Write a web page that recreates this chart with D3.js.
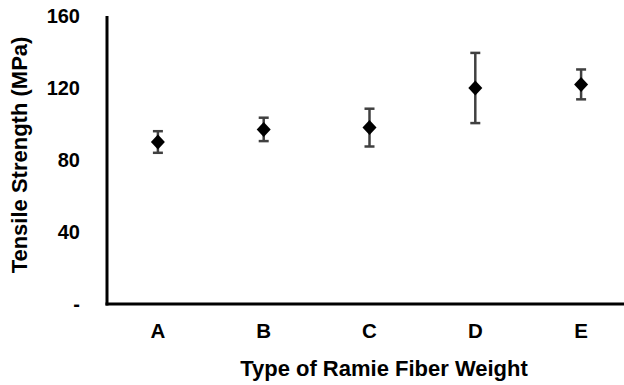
<!DOCTYPE html>
<html>
<head>
<meta charset="utf-8">
<script src="https://cdn.jsdelivr.net/npm/d3@7"></script>
<style>
  html, body { margin: 0; padding: 0; background: #fff; }
  svg text { font-family: "Liberation Sans", Arial, sans-serif; font-weight: bold; fill: #000; }
</style>
</head>
<body>
<svg id="chart" width="624" height="385"></svg>
<script>
// Tensile strength by fiber weight type (mean ± standard deviation)
const categories = ["A", "B", "C", "D", "E"];
const means = [90, 97, 98, 120, 122];
const errors = [6, 6.5, 10.5, 19.5, 8.3];
const yTicks = [0, 40, 80, 120, 160];
const yTickLabels = ["-", "40", "80", "120", "160"];

const svg = d3.select("#chart");
const plot = { left: 107, right: 624, top: 16, bottom: 304 };

const x = d3.scaleBand().domain(categories).range([105, 634]);
const y = d3.scaleLinear().domain([0, 160]).range([plot.bottom, plot.top]);

// Y tick labels
svg.append("g").selectAll("text")
  .data(yTicks)
  .join("text")
  .attr("x", 80)
  .attr("y", d => y(d))
  .attr("dy", "0.35em")
  .attr("text-anchor", "end")
  .style("font-size", "20px")
  .text((d, i) => yTickLabels[i]);

// Category labels
svg.append("g").selectAll("text")
  .data(categories)
  .join("text")
  .attr("x", d => x(d) + x.bandwidth() / 2)
  .attr("y", 338)
  .attr("text-anchor", "middle")
  .style("font-size", "20.5px")
  .text(d => d);

// Axis lines
svg.append("line")
  .attr("x1", plot.left).attr("x2", plot.left)
  .attr("y1", plot.top).attr("y2", plot.bottom + 1.5)
  .attr("stroke", "#000").attr("stroke-width", 3);
svg.append("line")
  .attr("x1", plot.left - 1.5).attr("x2", plot.right)
  .attr("y1", plot.bottom).attr("y2", plot.bottom)
  .attr("stroke", "#000").attr("stroke-width", 3);

// Error bars
const cx = d => x(d) + x.bandwidth() / 2;
const eb = svg.append("g").attr("stroke", "#404040").attr("stroke-width", 2.5);
categories.forEach((c, i) => {
  const hi = y(means[i] + errors[i]);
  const lo = y(means[i] - errors[i]);
  eb.append("line").attr("x1", cx(c)).attr("x2", cx(c)).attr("y1", hi).attr("y2", lo);
  eb.append("line").attr("x1", cx(c) - 5).attr("x2", cx(c) + 5).attr("y1", hi).attr("y2", hi);
  eb.append("line").attr("x1", cx(c) - 5).attr("x2", cx(c) + 5).attr("y1", lo).attr("y2", lo);
});

// Diamond markers
svg.append("g").selectAll("path")
  .data(categories)
  .join("path")
  .attr("d", "M0,-7.5L7,0L0,7.5L-7,0Z")
  .attr("transform", (d, i) => `translate(${cx(d)},${y(means[i])})`)
  .attr("fill", "#000");

// Axis titles
svg.append("text")
  .attr("transform", "translate(27,155) rotate(-90)")
  .attr("text-anchor", "middle")
  .style("font-size", "22px")
  .text("Tensile Strength (MPa)");

svg.append("text")
  .attr("x", 384)
  .attr("y", 376)
  .attr("text-anchor", "middle")
  .style("font-size", "22px")
  .text("Type of Ramie Fiber Weight");
</script>
</body>
</html>
